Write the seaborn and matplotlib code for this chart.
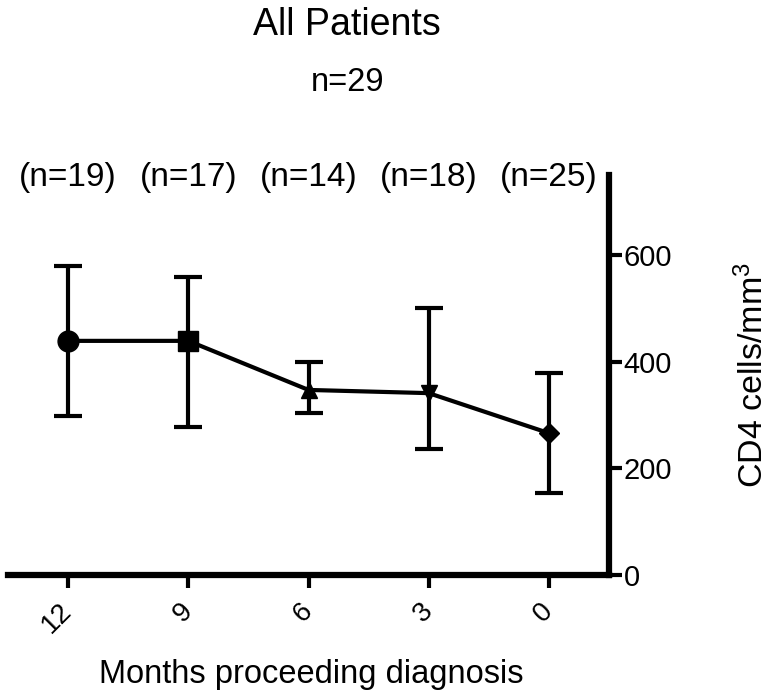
import matplotlib
matplotlib.use("Agg")
import matplotlib.pyplot as plt
import seaborn as sns
import pandas as pd
import numpy as np

# ---- data ----
months = ["12", "9", "6", "3", "0"]
n_labels = ["(n=19)", "(n=17)", "(n=14)", "(n=18)", "(n=25)"]
means = [439, 439, 347, 341, 266]
upper = [579, 559, 399, 501, 379]
lower = [298, 278, 304, 236, 154]
y_ticks = [0, 200, 400, 600]
marker_list = ["o", "s", "^", "v", "D"]
marker_sizes = [15, 15, 12, 12, 10]

sns.set_theme(style="white")
plt.rcParams["font.family"] = ["Liberation Sans", "DejaVu Sans"]
plt.rcParams["text.color"] = "black"
plt.rcParams["axes.labelcolor"] = "black"
plt.rcParams["mathtext.fontset"] = "custom"
plt.rcParams["mathtext.rm"] = "Liberation Sans"
plt.rcParams["mathtext.it"] = "Liberation Sans:italic"

df = pd.DataFrame({"month": months, "pos": np.arange(len(months)), "mean": means,
                   "upper": upper, "lower": lower})

W, H = 773, 699
fig = plt.figure(figsize=(W / 100, H / 100), dpi=100)
ax = fig.add_axes([8 / W, 1 - 575 / H, (609 - 8) / W, (575 - 175) / H])

# error bars
err = np.vstack([df["mean"] - df["lower"], df["upper"] - df["mean"]])
ax.errorbar(df["pos"], df["mean"], yerr=err, fmt="none", ecolor="black",
            elinewidth=3, capsize=10, capthick=3, zorder=2)

# connecting line
sns.lineplot(data=df, x="pos", y="mean", color="black", linewidth=3,
             ax=ax, zorder=3, legend=False)

# markers
for i, row in df.iterrows():
    ax.plot(row["pos"], row["mean"], marker=marker_list[i], markersize=marker_sizes[i],
            color="black", linestyle="none", zorder=4)

ax.set_xlim(-0.5, 4.5)
ax.set_ylim(0, 750)

# spines
for s in ["top", "left"]:
    ax.spines[s].set_visible(False)
for s in ["bottom", "right"]:
    ax.spines[s].set_visible(True)
    ax.spines[s].set_linewidth(4.5)
    ax.spines[s].set_color("black")

ax.yaxis.tick_right()
ax.yaxis.set_label_position("right")
ax.set_yticks(y_ticks)
ax.set_yticklabels([str(v) for v in y_ticks], fontsize=21)
ax.set_xticks(df["pos"])
ax.set_xticklabels(months, fontsize=20, rotation=45, ha="right", va="center",
                   rotation_mode="anchor")
ax.tick_params(axis="both", which="both", direction="out", length=9, width=3,
               color="black", labelcolor="black")
ax.tick_params(axis="y", right=True, left=False, pad=1.5)
ax.tick_params(axis="x", bottom=True, pad=14)

ax.set_xlabel("Months proceeding diagnosis", fontsize=23.5, color="black")
ax.xaxis.set_label_coords(0.505, -0.21)
ax.set_ylabel("CD4 cells/mm$^3$", fontsize=24.5, color="black")
ax.yaxis.set_label_coords((736 - 8) / (609 - 8), 0.5)

# n labels above each point
for i, lab in enumerate(n_labels):
    ax.text(df["pos"][i], 746, lab, ha="center", va="center", fontsize=24, color="black")

fig.text(347 / W, 1 - 35 / H, "All Patients", ha="center", va="baseline", fontsize=27, color="black")
fig.text(348 / W, 1 - 91 / H, "n=29", ha="center", va="baseline", fontsize=23.5, color="black")

fig.savefig("out.png", dpi=100, facecolor="white")
